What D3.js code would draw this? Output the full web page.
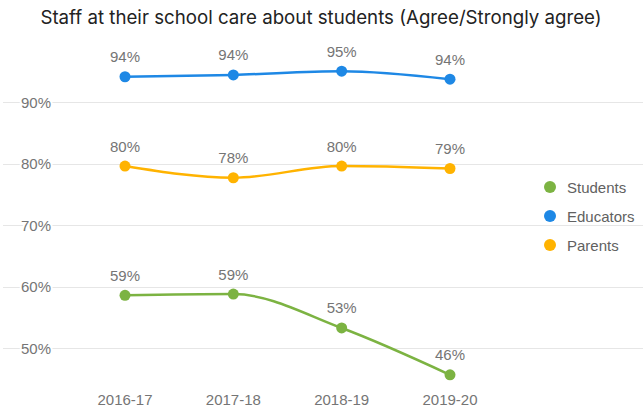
<!DOCTYPE html>
<html>
<head>
<meta charset="utf-8">
<script src="https://cdn.jsdelivr.net/npm/d3@7/dist/d3.min.js"></script>
<style>
  html, body { margin: 0; padding: 0; background: #fff; }
  svg { display: block; font-family: "Liberation Sans", Arial, sans-serif; }
</style>
</head>
<body>
<svg id="chart" width="643" height="410"></svg>
<script>
// Survey years and share agreeing (%) for each respondent group
const years = ["2016-17", "2017-18", "2018-19", "2019-20"];
const students  = [58.6, 58.8, 53.3, 45.7];
const educators = [94.1, 94.4, 95.0, 93.7];
const parents   = [79.6, 77.7, 79.6, 79.2];
const seriesNames = ["Students", "Educators", "Parents"];
const seriesColors = ["#7cb342", "#1e88e5", "#ffb300"];
const yTicks = [50, 60, 70, 80, 90];
const title = "Staff at their school care about students (Agree/Strongly agree)";

const series = [students, educators, parents].map((vals, i) => ({
  name: seriesNames[i], color: seriesColors[i],
  points: vals.map((v, j) => ({ year: years[j], value: v }))
}));

const svg = d3.select("#chart");
const W = 643;

const x = d3.scalePoint().domain(years).range([125, 450]);
const y = d3.scaleLinear().domain([50, 90]).range([348.3, 102]);

// Title
svg.append("text")
  .attr("x", 321).attr("y", 24)
  .attr("text-anchor", "middle")
  .attr("font-family", "Inter, Roboto, sans-serif")
  .attr("font-size", 18.7)
  .attr("fill", "#222")
  .text(title);

// Horizontal gridlines with value labels
const grid = svg.append("g");
grid.selectAll("line").data(yTicks).join("line")
  .attr("x1", 3).attr("x2", W)
  .attr("y1", d => Math.round(y(d)) + 0.5).attr("y2", d => Math.round(y(d)) + 0.5)
  .attr("stroke", "#e6e6e6").attr("stroke-width", 1.2);
grid.selectAll("text").data(yTicks).join("text")
  .attr("x", 51).attr("y", d => y(d) + 5.5)
  .attr("text-anchor", "end")
  .attr("font-size", 15)
  .attr("fill", "#757575")
  .attr("stroke", "#fff").attr("stroke-width", 4).attr("paint-order", "stroke")
  .text(d => d + "%");

// Category labels
svg.append("g").selectAll("text").data(years).join("text")
  .attr("x", d => x(d)).attr("y", 404.5)
  .attr("text-anchor", "middle")
  .attr("font-size", 15)
  .attr("fill", "#757575")
  .text(d => d);

// Lines
const line = d3.line()
  .x(d => x(d.year)).y(d => y(d.value))
  .curve(d3.curveMonotoneX);

const g = svg.append("g");
series.forEach(s => {
  g.append("path")
    .datum(s.points)
    .attr("d", line)
    .attr("fill", "none")
    .attr("stroke", s.color)
    .attr("stroke-width", 2.5);
  g.selectAll(null).data(s.points).join("circle")
    .attr("cx", d => x(d.year)).attr("cy", d => y(d.value))
    .attr("r", 5.5)
    .attr("fill", s.color);
  g.selectAll(null).data(s.points).join("text")
    .attr("x", d => x(d.year)).attr("y", d => y(d.value) - 14.5)
    .attr("text-anchor", "middle")
    .attr("font-size", 15)
    .attr("fill", "#757575")
    .text(d => Math.round(d.value) + "%");
});

// Legend
const legend = svg.append("g");
const legendY = [187, 216, 245];
series.forEach((s, i) => {
  legend.append("circle")
    .attr("cx", 550).attr("cy", legendY[i]).attr("r", 6)
    .attr("fill", s.color);
  legend.append("text")
    .attr("x", 567).attr("y", legendY[i] + 5.5)
    .attr("font-size", 15)
    .attr("fill", "#616161")
    .text(s.name);
});
</script>
</body>
</html>
